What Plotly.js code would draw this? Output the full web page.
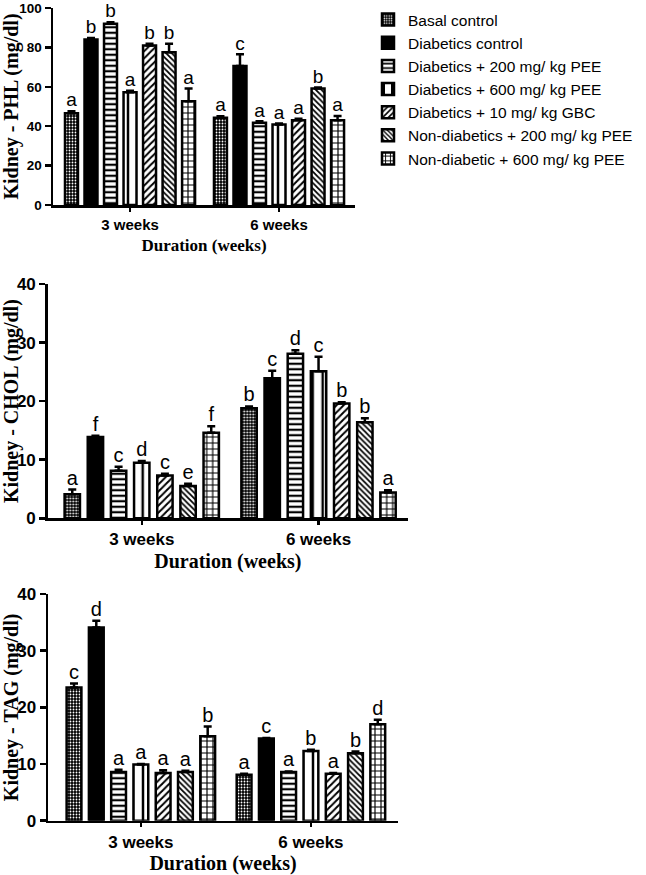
<!DOCTYPE html>
<html>
<head>
<meta charset="utf-8">
<script src="https://cdn.plot.ly/plotly-3.0.1.min.js"></script>
<style>html,body{margin:0;padding:0;background:#fff;}#chart{width:646px;height:875px;}</style>
</head>
<body>
<div id="chart"></div>
<script>
// ---------- data ----------
const groups = ['3 weeks', '6 weeks'];
const seriesNames = [
  'Basal control',
  'Diabetics control',
  'Diabetics + 200 mg/ kg PEE',
  'Diabetics + 600 mg/ kg PEE',
  'Diabetics + 10 mg/ kg GBC',
  'Non-diabetics + 200 mg/ kg PEE',
  'Non-diabetic + 600 mg/ kg PEE'
];

// Kidney - PHL (mg/dl)
const phl3 = [46.6, 84.0, 92.0, 57.2, 81.0, 77.6, 52.7];
const phl6 = [44.3, 70.6, 41.8, 40.9, 43.0, 59.2, 43.0];
const phlErr3 = [1.0, 0.8, 0.8, 0.8, 0.8, 4.2, 6.5];
const phlErr6 = [0.8, 5.9, 0.7, 0.5, 0.8, 0.5, 2.2];
const phlLet3 = ['a', 'b', 'b', 'a', 'b', 'b', 'a'];
const phlLet6 = ['a', 'c', 'a', 'a', 'a', 'b', 'a'];

// Kidney - CHOL (mg/dl)
const chol3 = [4.1, 13.9, 8.1, 9.5, 7.3, 5.5, 14.6];
const chol6 = [18.8, 23.9, 28.1, 25.1, 19.6, 16.4, 4.4];
const cholErr3 = [0.8, 0.2, 0.7, 0.3, 0.3, 0.4, 1.1];
const cholErr6 = [0.3, 1.3, 0.6, 2.5, 0.2, 0.7, 0.4];
const cholLet3 = ['a', 'f', 'c', 'd', 'c', 'e', 'f'];
const cholLet6 = ['b', 'c', 'd', 'c', 'b', 'b', 'a'];

// Kidney - TAG (mg/dl)
const tag3 = [23.5, 34.1, 8.6, 9.9, 8.4, 8.6, 14.9];
const tag6 = [8.1, 14.5, 8.6, 12.3, 8.3, 11.9, 17.0];
const tagErr3 = [0.7, 1.2, 0.4, 0.1, 0.5, 0.2, 1.7];
const tagErr6 = [0.2, 0.1, 0.1, 0.2, 0.1, 0.3, 0.8];
const tagLet3 = ['c', 'd', 'a', 'a', 'a', 'a', 'b'];
const tagLet6 = ['a', 'c', 'a', 'b', 'a', 'b', 'd'];

// ---------- styles ----------
const patterns = [
  {shape: '.', fgcolor: 'white', bgcolor: 'black', size: 3, solidity: 0.3},
  null,
  {shape: '-', fgcolor: 'black', bgcolor: 'white', size: 5.5, solidity: 0.4},
  {shape: '|', fgcolor: 'black', bgcolor: 'white', size: 10, solidity: 0.25},
  {shape: '/', fgcolor: 'black', bgcolor: 'white', size: 5, solidity: 0.4},
  {shape: '\\', fgcolor: 'black', bgcolor: 'white', size: 4, solidity: 0.45},
  {shape: '+', fgcolor: 'black', bgcolor: 'white', size: 6, solidity: 0.35}
];

const pitch = 0.131;   // spacing between bars in a group (category units)
const barW = 0.087;    // bar width (category units)

const panels = [
  {ax: '', v3: phl3, v6: phl6, e3: phlErr3, e6: phlErr6, l3: phlLet3, l6: phlLet6, letterSize: 19},
  {ax: '2', v3: chol3, v6: chol6, e3: cholErr3, e6: cholErr6, l3: cholLet3, l6: cholLet6, letterSize: 20},
  {ax: '3', v3: tag3, v6: tag6, e3: tagErr3, e6: tagErr6, l3: tagLet3, l6: tagLet6, letterSize: 20}
];

const traces = [];
panels.forEach((p, pi) => {
  const lx = [], ly = [], lt = [];
  seriesNames.forEach((name, i) => {
    const off = (i - (seriesNames.length - 1) / 2) * pitch;
    const xs = groups.map((g, gi) => gi + off);
    const ys = [p.v3[i], p.v6[i]];
    const es = [p.e3[i], p.e6[i]];
    const marker = {color: i === 1 ? 'black' : 'white', line: {color: 'black', width: 2.5}};
    if (patterns[i]) marker.pattern = patterns[i];
    traces.push({
      type: 'bar', name: name, x: xs, y: ys, width: barW,
      xaxis: 'x' + p.ax, yaxis: 'y' + p.ax,
      marker: marker,
      error_y: {type: 'data', array: es, arrayminus: [0, 0], symmetric: false,
                color: 'black', thickness: 2.5, width: 4},
      showlegend: pi === 0, legendgroup: name,
      hoverinfo: 'skip'
    });
    xs.forEach((x, gi) => {
      lx.push(x);
      ly.push(ys[gi] + es[gi]);
      lt.push(gi === 0 ? p.l3[i] : p.l6[i]);
    });
  });
  traces.push({
    type: 'scatter', mode: 'text', x: lx, y: ly, text: lt,
    textposition: 'top center', cliponaxis: false,
    textfont: {family: 'Liberation Sans, Arial, sans-serif', size: p.letterSize, color: 'black'},
    xaxis: 'x' + p.ax, yaxis: 'y' + p.ax, showlegend: false, hoverinfo: 'skip'
  });
});

const W = 646, H = 875;
function xdom(a, b) { return [a / W, b / W]; }
function ydom(bottomPx, topPx) { return [1 - bottomPx / H, 1 - topPx / H]; }

const sans = 'Liberation Sans, Arial, sans-serif';
const serif = 'Liberation Serif, Times New Roman, serif';

function xAxis(dom, range, anchor, tickSize, titleSize, standoff) {
  return {
    domain: dom, range: range, anchor: anchor,
    tickvals: [0, 1], ticktext: groups,
    showline: true, linecolor: 'black', linewidth: 2.5,
    ticks: 'outside', ticklen: 4, tickwidth: 2.5, tickcolor: 'black',
    showgrid: false, zeroline: false, fixedrange: true,
    tickfont: {family: sans, size: tickSize, color: 'black', weight: 'bold'},
    title: {text: 'Duration (weeks)', standoff: standoff,
            font: {family: serif, size: titleSize, color: 'black', weight: 'bold'}}
  };
}
function yAxis(dom, range, dtick, anchor, title, tickSize, titleSize, standoff) {
  return {
    domain: dom, range: range, anchor: anchor, dtick: dtick, tick0: 0,
    showline: true, linecolor: 'black', linewidth: 2.5,
    ticks: 'outside', ticklen: 6, tickwidth: 2.5, tickcolor: 'black',
    ticklabeloverflow: 'allow',
    showgrid: false, zeroline: false, fixedrange: true,
    tickfont: {family: sans, size: tickSize, color: 'black', weight: 'bold'},
    title: {text: title, standoff: standoff,
            font: {family: serif, size: titleSize, color: 'black', weight: 'bold'}}
  };
}

const layout = {
  width: W, height: H,
  margin: {l: 0, r: 0, t: 0, b: 0},
  paper_bgcolor: 'white', plot_bgcolor: 'white',
  barmode: 'overlay',
  xaxis: xAxis(xdom(53, 355), [-0.517, 1.51], 'y', 15, 17, 8),
  yaxis: yAxis(ydom(205, 8), [0, 100], 20, 'x', 'Kidney - PHL (mg/dl)', 13.5, 20, 10),
  xaxis2: xAxis(xdom(47.7, 408), [-0.532, 1.506], 'y2', 17, 20, 6),
  yaxis2: yAxis(ydom(518.3, 284), [0, 40], 10, 'x2', 'Kidney - CHOL (mg/dl)', 17, 20, 6),
  xaxis3: xAxis(xdom(48, 398), [-0.546, 1.512], 'y3', 17, 20, 12),
  yaxis3: yAxis(ydom(820.7, 594), [0, 40], 10, 'x3', 'Kidney - TAG (mg/dl)', 17, 20, 6),
  legend: {
    x: 368 / W, xanchor: 'left', y: 1 - 3 / H, yanchor: 'top',
    font: {family: sans, size: 15.5, color: 'black'},
    bgcolor: 'rgba(0,0,0,0)', tracegroupgap: 0, traceorder: 'normal'
  },
  showlegend: true
};

Plotly.newPlot('chart', traces, layout, {staticPlot: true, displayModeBar: false});
</script>
</body>
</html>
